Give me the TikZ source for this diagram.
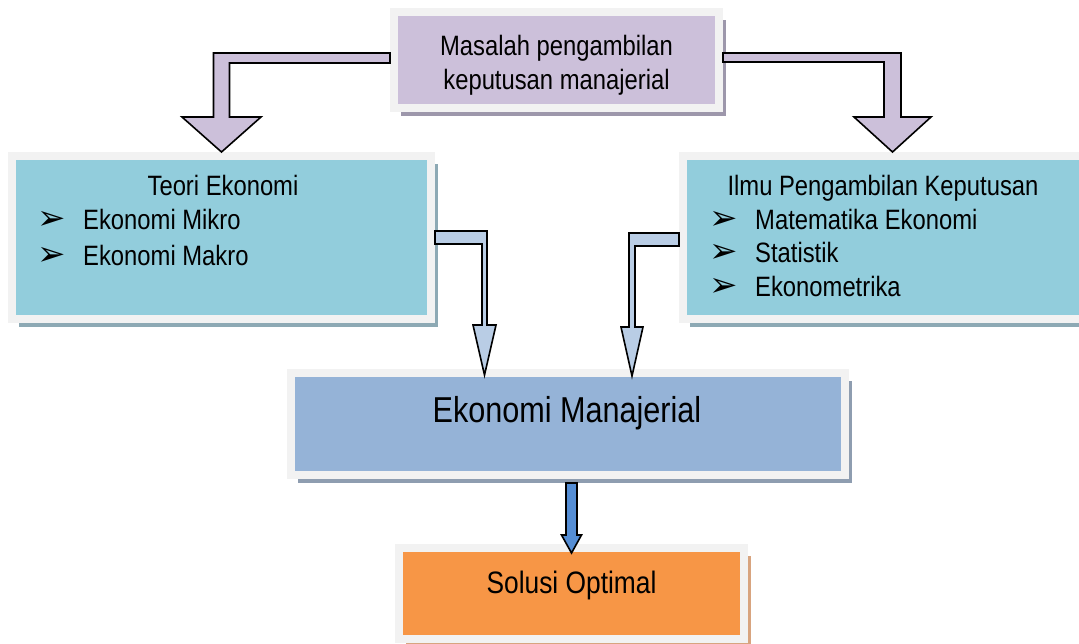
\documentclass[tikz,border=0pt]{standalone}
\usepackage{fontspec}
\setmainfont{Liberation Sans}[FakeStretch=0.85]
\newfontfamily\bulletfont{DejaVu Sans}
\usetikzlibrary{shadows}

\definecolor{framegray}{HTML}{F2F2F2}
\definecolor{lavender}{HTML}{CCC0DA}
\definecolor{lavshadow}{HTML}{9D97AB}
\definecolor{aquafill}{HTML}{92CDDC}
\definecolor{aquashadow}{HTML}{8DA9B4}
\definecolor{bluefill}{HTML}{95B3D7}
\definecolor{blueshadow}{HTML}{8E9DB0}
\definecolor{orangefill}{HTML}{F79646}
\definecolor{orangeshadow}{HTML}{D8A47F}
\definecolor{paleblue}{HTML}{B9CDE5}
\definecolor{darkarrow}{HTML}{558ED5}

\newcommand{\arrowbullet}{{\bulletfont\fontsize{34}{34}\selectfont\symbol{"27A2}}}

\tikzset{
  panel/.style 2 args={fill=#1, draw=framegray, line width=8pt, inner sep=0pt,
    drop shadow={shadow xshift=7pt, shadow yshift=-8pt, fill=#2, opacity=1}},
  bentarrow/.style={fill=#1, draw=black, line width=1.6pt, line join=miter},
  boxtext/.style={anchor=base, inner sep=0pt},
  listtext/.style={anchor=base west, inner sep=0pt}
}

\begin{document}
\begin{tikzpicture}[x=1pt, y=-1pt, font=\fontsize{28}{34}\selectfont]
\path[use as bounding box, clip] (0,0) rectangle (1079,643);

% boxes
\node[panel={lavender}{lavshadow}, minimum width=325pt, minimum height=96pt]
  (masalah) at (556.5,60) {};
\node[panel={aquafill}{aquashadow}, minimum width=419pt, minimum height=163pt]
  (teori) at (221.5,237.5) {};
\node[panel={aquafill}{aquashadow}, minimum width=419pt, minimum height=163pt]
  (ilmu) at (892.5,237.5) {};
\node[panel={bluefill}{blueshadow}, minimum width=554pt, minimum height=102pt]
  (manajerial) at (568,424) {};
\node[panel={orangefill}{orangeshadow}, minimum width=345pt, minimum height=91pt]
  (solusi) at (571.5,593.5) {};

% tips of the lower arrows
\coordinate (tipL) at ([shift={(-83.5pt,-6pt)}]manajerial.north);
\coordinate (tipR) at ([shift={(64pt,-7pt)}]manajerial.north);
\coordinate (tipB) at ([yshift=-9pt]solusi.north);

% arrows
\draw[bentarrow=lavender] (masalah.west |- 0,53) -| ([shift={(-8pt,35pt)}]teori.north)
  -- ++(-31.5,0) -- (teori.north) -- ++(39.5,-35) -- ++(-31.5,0)
  |- (masalah.west |- 0,63) -- cycle;
\draw[bentarrow=lavender] (masalah.east |- 0,53) -| ([shift={(8.5pt,35pt)}]ilmu.north)
  -- ++(30,0) -- (ilmu.north) -- ++(-38.5,-35) -- ++(30,0)
  |- (masalah.east |- 0,62) -- cycle;
\draw[bentarrow=paleblue] (teori.east |- 0,231) -| ([shift={(2.5pt,50pt)}]tipL)
  -- ++(9,0) -- (tipL) -- ++(-11.5,-50) -- ++(9,0)
  |- (teori.east |- 0,244) -- cycle;
\draw[bentarrow=paleblue] (ilmu.west |- 0,233) -| ([shift={(-3pt,49pt)}]tipR)
  -- ++(-8,0) -- (tipR) -- ++(11,-49) -- ++(-8,0)
  |- (ilmu.west |- 0,246) -- cycle;
\draw[bentarrow=darkarrow] (manajerial.south -| tipB) ++(-5.5,4) -- ++(0,52)
  -- ++(-4.5,0) -- (tipB) -- ++(10,-18) -- ++(-4.5,0) -- ++(0,-52) -- cycle;

% texts
\node[boxtext] (masalahtxt) at (556.5,55)
  {\begin{tabular}[t]{@{}c@{}}Masalah pengambilan\\keputusan manajerial\end{tabular}};
\node[boxtext] (teoritxt) at (223,195) {Teori Ekonomi};
\node[listtext, font=\fontsize{28}{36}\selectfont] (teorilist) at (37,229)
  {\begin{tabular}[t]{@{}l@{}}
   \makebox[46pt][l]{\arrowbullet}Ekonomi Mikro\\
   \makebox[46pt][l]{\arrowbullet}Ekonomi Makro
   \end{tabular}};
\node[boxtext] (ilmutxt) at (883,195) {Ilmu Pengambilan Keputusan};
\node[listtext, font=\fontsize{28}{33.5}\selectfont] (ilmulist) at (709,229)
  {\begin{tabular}[t]{@{}l@{}}
   \makebox[46pt][l]{\arrowbullet}Matematika Ekonomi\\
   \makebox[46pt][l]{\arrowbullet}Statistik\\
   \makebox[46pt][l]{\arrowbullet}Ekonometrika
   \end{tabular}};
\node[boxtext, font=\fontsize{36}{40}\selectfont] (manajerialtxt) at (567,422)
  {Ekonomi Manajerial};
\node[boxtext, font=\fontsize{31}{36}\selectfont] (solusitxt) at (571.5,593)
  {Solusi Optimal};
\end{tikzpicture}
\end{document}
